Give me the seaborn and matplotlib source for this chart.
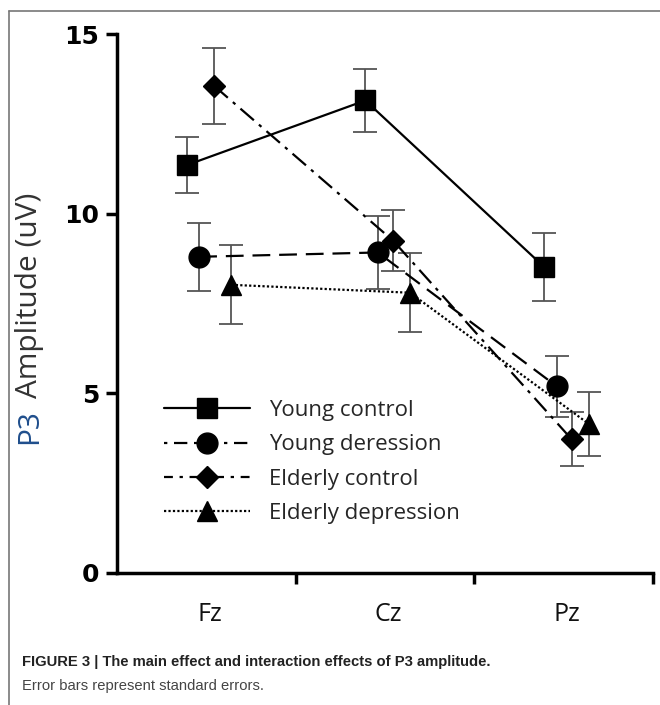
import matplotlib
matplotlib.use("Agg")
import matplotlib.pyplot as plt
import seaborn as sns
import numpy as np
from matplotlib.lines import Line2D

sns.set_style("ticks")
plt.rcParams['font.family'] = ['Open Sans', 'DejaVu Sans']

# ---- data ----
sites = ["Fz", "Cz", "Pz"]
groups = ["Young control", "Young deression", "Elderly control", "Elderly depression"]
young_control = [11.35, 13.15, 8.52]
young_control_se = [0.78, 0.88, 0.95]
young_depression = [8.8, 8.92, 5.2]
young_depression_se = [0.95, 1.02, 0.85]
elderly_control = [13.55, 9.25, 3.72]
elderly_control_se = [1.05, 0.85, 0.75]
elderly_depression = [8.02, 7.8, 4.15]
elderly_depression_se = [1.1, 1.1, 0.9]

means = [young_control, young_depression, elderly_control, elderly_depression]
ses = [young_control_se, young_depression_se, elderly_control_se, elderly_depression_se]

# ---- styles ----
offsets = [-0.11, -0.04, 0.045, 0.14]
markers = ["s", "o", "D", "^"]
msizes = [15, 15, 11.5, 14]
linestyles = ["-", (0, (8, 4)), (0, (8, 3, 1.5, 3)), (0, (1, 1))]
legend_ls = ["-", (0, (1.5, 3, 6, 3)), (0, (4, 3, 1.5, 3)), (0, (1, 1))]

fig = plt.figure(figsize=(6.6, 7.05), dpi=100)
ax = fig.add_axes([117/660, 1 - 573/705, (653-117)/660, (573-34)/705])

for i in range(4):
    x = np.arange(len(sites)) + 0.5 + offsets[i]
    ax.errorbar(x, means[i], yerr=ses[i], fmt="none", ecolor="#555555",
                elinewidth=1.3, capsize=8.5, capthick=1.3, zorder=2)
    ax.plot(x, means[i], color="black", lw=1.6, linestyle=linestyles[i],
            marker=markers[i], markersize=msizes[i], markerfacecolor="black",
            markeredgecolor="black", zorder=3)

ax.set_xlim(0, 3)
ax.set_ylim(0, 15)
ax.set_yticks([0, 5, 10, 15])
ax.set_yticklabels(["0", "5", "10", "15"], fontsize=18, fontweight="bold",
                   family="DejaVu Sans")
ax.set_xticks([1, 2, 3])
ax.set_xticklabels([])
ax.set_xticks([0.52, 1.52, 2.52], minor=True)
ax.set_xticklabels(sites, minor=True, fontsize=18)
ax.tick_params(axis="x", which="minor", length=0, pad=21, colors="#111111")
ax.tick_params(axis="x", which="major", length=8, width=2.5, color="black")
ax.tick_params(axis="y", length=8, width=2.5, color="black", pad=5, labelcolor="black")
for s in ["top", "right"]:
    ax.spines[s].set_visible(False)
for s in ["left", "bottom"]:
    ax.spines[s].set_linewidth(2.5)
    ax.spines[s].set_color("black")

handles = [Line2D([0], [0], color="black", lw=1.6, linestyle=legend_ls[i],
                  marker=markers[i], markersize=msizes[i], markerfacecolor="black",
                  markeredgecolor="black") for i in range(4)]
ax.legend(handles, groups, loc="upper left", bbox_to_anchor=(0.088, 0.321),
          frameon=False, fontsize=16, handlelength=3.85, handletextpad=0.85,
          labelspacing=0.6, borderaxespad=0, borderpad=0)

# y label: "P3" blue, rest dark
fig.text(30/660, 1 - 444/705, "P3", rotation=90, ha="center", va="bottom",
         fontsize=21.5, color="#1f4e8c")
fig.text(30/660, 1 - 398/705, "Amplitude (uV)", rotation=90, ha="center", va="bottom",
         fontsize=21.5, color="#333333")

# frame lines
fig.add_artist(Line2D([9/660, 1.0], [1 - 11/705, 1 - 11/705], color="#777777", lw=1.2,
                      transform=fig.transFigure))
fig.add_artist(Line2D([9/660, 9/660], [1 - 11/705, 0], color="#777777", lw=1.2,
                      transform=fig.transFigure))

# caption
fig.text(22/660, 1 - 662/705, "FIGURE 3 | The main effect and interaction effects of P3 amplitude.",
         fontsize=10.6, fontweight="bold", ha="left", va="center", color="#222222",
         family=["Liberation Sans Narrow", "Liberation Sans", "DejaVu Sans"])
fig.text(22/660, 1 - 686/705, "Error bars represent standard errors.",
         fontsize=10.6, ha="left", va="center", color="#444444",
         family=["Liberation Sans Narrow", "Liberation Sans", "DejaVu Sans"])

fig.savefig("out.png", dpi=100)
